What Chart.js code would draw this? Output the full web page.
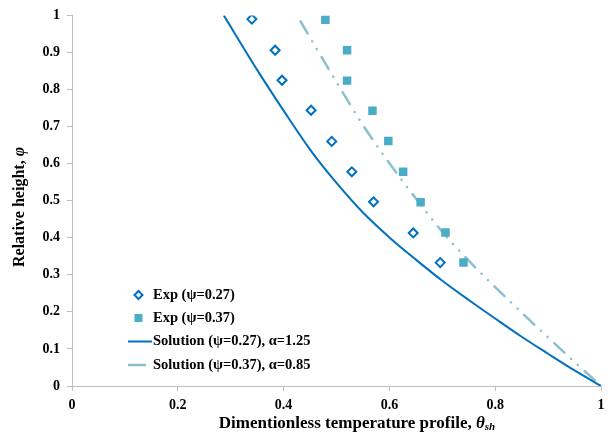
<!DOCTYPE html>
<html>
<head>
<meta charset="utf-8">
<script src="https://cdn.jsdelivr.net/npm/chart.js@4.4.1/dist/chart.umd.min.js"></script>
<style>
    html, body { margin: 0; padding: 0; background: #fff; }
    #wrap { position: relative; width: 612px; height: 433px; }
</style>
</head>
<body>
<div id="wrap"><canvas id="chart" width="612" height="433"></canvas></div>
<script>
// experimental points
const exp27X = [0.340, 0.384, 0.397, 0.452, 0.491, 0.529, 0.570, 0.645, 0.696];
const exp27Y = [0.990, 0.906, 0.825, 0.744, 0.660, 0.578, 0.497, 0.413, 0.333];
const exp37X = [0.479, 0.520, 0.520, 0.568, 0.598, 0.626, 0.659, 0.706, 0.740];
const exp37Y = [0.988, 0.906, 0.824, 0.743, 0.661, 0.578, 0.496, 0.414, 0.333];

// solution curves
const sol27X = [0.287, 0.35, 0.40, 0.45, 0.50, 0.55, 0.60, 0.65, 0.70, 0.75, 0.80, 0.85, 0.90, 0.95, 1.0];
const sol27Y = [1.000, 0.853, 0.743, 0.638, 0.548, 0.468, 0.401, 0.341, 0.284, 0.232, 0.182, 0.133, 0.087, 0.042, 0.0];
const sol37X = [0.432, 0.45, 0.50, 0.55, 0.60, 0.65, 0.70, 0.75, 0.80, 0.85, 0.90, 0.95, 1.0];
const sol37Y = [0.984, 0.940, 0.820, 0.704, 0.601, 0.506, 0.416, 0.338, 0.267, 0.198, 0.131, 0.065, 0.0];

const xTickLabels = ['0', '0.2', '0.4', '0.6', '0.8', '1'];
const yTickLabels = ['0', '0.1', '0.2', '0.3', '0.4', '0.5', '0.6', '0.7', '0.8', '0.9', '1'];

const legendLabels = [
    'Exp (ψ=0.27)',
    'Exp (ψ=0.37)',
    'Solution (ψ=0.27), α=1.25',
    'Solution (ψ=0.37), α=0.85',
];

const SERIF = '"Liberation Serif", "Times New Roman", serif';
const BLUE  = '#0070c0';
const TEAL  = '#4bacc6';
const TEAL_LINE = '#8cc0cd';

const zip = (xs, ys) => xs.map((x, i) => ({ x, y: ys[i] }));

const titlesPlugin = {
    id: 'titles',
    afterDraw(chart) {
        const ctx = chart.ctx;
        ctx.save();
        ctx.fillStyle = '#000';
        ctx.textBaseline = 'middle';

        // x title with italic theta and subscript
        const partA = 'Dimentionless temperature profile, ';
        const bold  = 'bold 17px ' + SERIF;
        const ital  = 'italic bold 17px ' + SERIF;
        const sub   = 'italic bold 11px ' + SERIF;
        ctx.font = bold;  const wA = ctx.measureText(partA).width;
        ctx.font = ital;  const wT = ctx.measureText('θ').width;
        ctx.font = sub;   const wS = ctx.measureText('sh').width;
        let x = 357 - (wA + wT + wS) / 2;
        const y = 424;
        ctx.textAlign = 'left';
        ctx.font = bold; ctx.fillText(partA, x, y); x += wA;
        ctx.font = ital; ctx.fillText('θ', x, y);  x += wT;
        ctx.font = sub;  ctx.fillText('sh', x, y + 3);

        // y title, rotated
        const partB = 'Relative height, ';
        const boldY = 'bold 16px ' + SERIF;
        const italY = 'italic bold 16px ' + SERIF;
        ctx.font = boldY; const wB = ctx.measureText(partB).width;
        ctx.font = italY; const wP = ctx.measureText('φ').width;
        ctx.translate(20, 207);
        ctx.rotate(-Math.PI / 2);
        let yx = -(wB + wP) / 2;
        ctx.font = boldY; ctx.fillText(partB, yx, 0); yx += wB;
        ctx.font = italY; ctx.fillText('φ', yx, 0);
        ctx.restore();
    },
};

const legendPlugin = {
    id: 'innerLegend',
    afterDraw(chart) {
        const ctx = chart.ctx;
        const rows = [295, 318, 341.5, 365];
        const textX = 153;
        ctx.save();

        // diamond marker
        ctx.strokeStyle = BLUE;
        ctx.lineWidth = 2;
        ctx.fillStyle = '#fff';
        ctx.beginPath();
        ctx.moveTo(138.5 - 4, rows[0]);
        ctx.lineTo(138.5, rows[0] - 4);
        ctx.lineTo(138.5 + 4, rows[0]);
        ctx.lineTo(138.5, rows[0] + 4);
        ctx.closePath();
        ctx.fill();
        ctx.stroke();

        // square marker
        ctx.fillStyle = TEAL;
        ctx.fillRect(134.5, rows[1] - 4, 8, 8);

        // solution lines
        ctx.lineWidth = 2;
        ctx.strokeStyle = BLUE;
        ctx.beginPath();
        ctx.moveTo(128, rows[2]);
        ctx.lineTo(152, rows[2]);
        ctx.stroke();

        ctx.lineWidth = 2.5;
        ctx.strokeStyle = TEAL_LINE;
        ctx.beginPath();
        ctx.moveTo(128, rows[3]);
        ctx.lineTo(146, rows[3]);
        ctx.stroke();

        ctx.fillStyle = '#000';
        ctx.font = 'bold 14.5px ' + SERIF;
        ctx.textAlign = 'left';
        ctx.textBaseline = 'middle';
        legendLabels.forEach((t, i) => ctx.fillText(t, textX, rows[i]));
        ctx.restore();
    },
};

const axisGrid = {
    display: true,
    drawOnChartArea: false,
    drawTicks: true,
    tickLength: 5,
    color: '#bfbfbf',
};

new Chart(document.getElementById('chart'), {
    type: 'scatter',
    data: {
        datasets: [
            {
                label: legendLabels[0],
                data: zip(exp27X, exp27Y),
                pointStyle: 'rectRot',
                pointRadius: 4.5,
                pointBorderWidth: 2,
                borderColor: BLUE,
                backgroundColor: '#fff',
                showLine: false,
            },
            {
                label: legendLabels[1],
                data: zip(exp37X, exp37Y),
                pointStyle: 'rect',
                pointRadius: 6,
                pointBorderWidth: 0,
                borderColor: TEAL,
                backgroundColor: TEAL,
                showLine: false,
            },
            {
                label: legendLabels[2],
                data: zip(sol27X, sol27Y),
                showLine: true,
                pointRadius: 0,
                borderColor: BLUE,
                borderWidth: 2,
                cubicInterpolationMode: 'monotone',
                fill: false,
            },
            {
                label: legendLabels[3],
                data: zip(sol37X, sol37Y),
                showLine: true,
                pointRadius: 0,
                borderColor: TEAL_LINE,
                borderWidth: 2.5,
                borderCapStyle: 'round',
                borderDash: [14, 9, 0.1, 9, 0.1, 9],
                cubicInterpolationMode: 'monotone',
                fill: false,
            },
        ],
    },
    options: {
        responsive: false,
        animation: false,
        layout: { padding: { left: 0, right: 11, top: 14, bottom: 0 } },
        plugins: {
            legend:  { display: false },
            tooltip: { enabled: false },
        },
        scales: {
            x: {
                type: 'linear',
                min: 0,
                max: 1,
                ticks: {
                    stepSize: 0.2,
                    padding: 6,
                    color: '#000',
                    font: { family: SERIF, size: 14, weight: 'bold' },
                    callback: (v, i) => xTickLabels[i],
                },
                grid: axisGrid,
                border: { color: '#bfbfbf' },
                afterFit: s => { s.height = 47; },
            },
            y: {
                type: 'linear',
                min: 0,
                max: 1,
                ticks: {
                    stepSize: 0.1,
                    padding: 7,
                    color: '#000',
                    font: { family: SERIF, size: 14, weight: 'bold' },
                    callback: (v, i) => yTickLabels[i],
                },
                grid: axisGrid,
                border: { color: '#bfbfbf' },
                afterFit: s => { s.width = 72; },
            },
        },
    },
    plugins: [titlesPlugin, legendPlugin],
});
</script>
</body>
</html>
